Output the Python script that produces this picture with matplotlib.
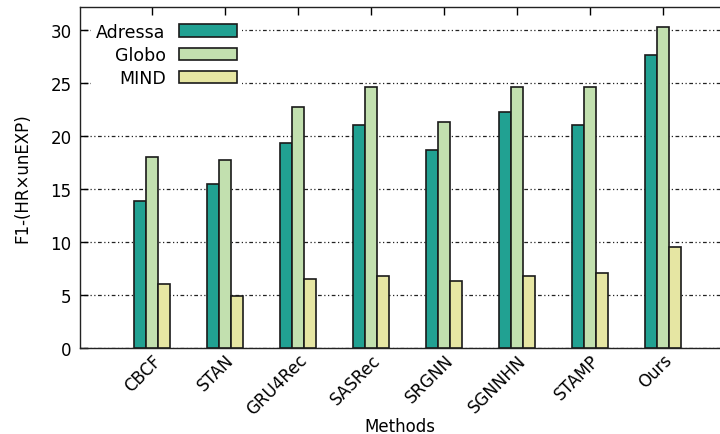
import matplotlib
matplotlib.use("Agg")
import matplotlib.pyplot as plt
import numpy as np

methods = ["CBCF", "STAN", "GRU4Rec", "SASRec", "SRGNN", "SGNNHN", "STAMP", "Ours"]
adressa = [13.9, 15.5, 19.3, 21.0, 18.7, 22.3, 21.0, 27.6]
globo = [18.0, 17.7, 22.7, 24.6, 21.3, 24.6, 24.6, 30.3]
mind = [6.0, 4.9, 6.5, 6.8, 6.3, 6.8, 7.1, 9.5]
series_names = ["Adressa", "Globo", "MIND"]
colors = ["#21A192", "#C2E0AF", "#E6E6A3"]
yticks = [0, 5, 10, 15, 20, 25, 30]

plt.rcParams['font.family'] = ['DejaVu Sans']
fig = plt.figure(figsize=(7.2, 4.35), dpi=100)
ax = fig.add_axes([80/720, 1-349/435, (720-80)/720, (349-8)/435])

x = np.arange(len(methods))
w = 0.168
for k, (vals, name, c) in enumerate(zip([adressa, globo, mind], series_names, colors)):
    ax.bar(x + (k-1)*w, vals, width=w, color=c, edgecolor="#1a1a1a", linewidth=1.2,
           label=name, zorder=3)

ax.set_xlim(-0.986, 7.78)
ax.set_ylim(0, 32.17)
ax.set_yticks(yticks)
ax.set_xticks(x)
ax.set_xticklabels(methods, rotation=45, ha='right', rotation_mode='anchor', fontsize=12)
ax.tick_params(axis='y', direction='in', length=6, width=1, labelsize=12, pad=6)
ax.tick_params(axis='x', direction='in', length=6, width=1, top=True, bottom=True, pad=2)
for sp in ax.spines.values():
    sp.set_linewidth(1.0)
    sp.set_color("#222222")
ax.spines['right'].set_visible(False)

ax.yaxis.grid(True, linestyle=(0, (1, 2, 3, 2, 1, 2)), color="#222222", linewidth=0.9, zorder=1)
ax.set_axisbelow(True)

ax.set_xlabel("Methods", fontsize=12)
ax.xaxis.set_label_coords(0.5, -(427-349)/341, transform=ax.transAxes)
ax.xaxis.label.set_va('center')
ax.set_ylabel("F1-(HR×unEXP)", fontsize=12)
ax.yaxis.set_label_coords(-(80-22)/640, 0.5)
ax.yaxis.label.set_va('center')

leg = ax.legend(loc='upper left', bbox_to_anchor=(0.009, 0.985), markerfirst=False, frameon=True,
                fontsize=12.5, handlelength=3.3, handleheight=0.7, handletextpad=0.8,
                labelspacing=0.3, borderaxespad=0.3, borderpad=0.3)
leg.get_frame().set_edgecolor('none')
leg.get_frame().set_facecolor('white')
leg.get_frame().set_alpha(1)
leg.set_zorder(5)

fig.savefig("out.png", dpi=100)
